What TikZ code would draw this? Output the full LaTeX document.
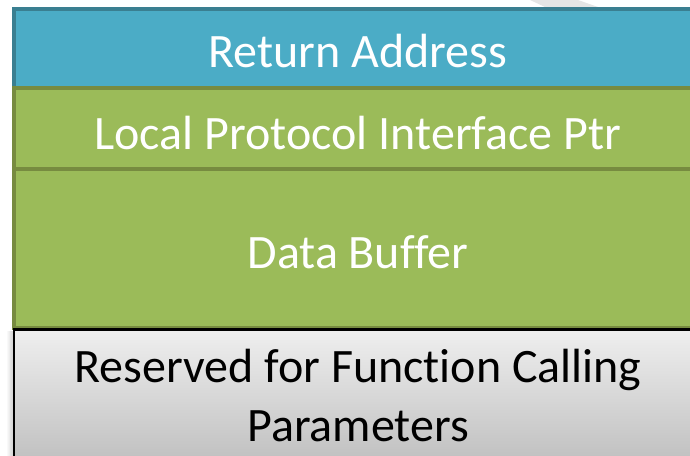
\documentclass[tikz,border=0pt]{standalone}
\usepackage{fontspec}
\setmainfont[Ligatures=CommonOff]{Carlito}
\usetikzlibrary{shadings}
\definecolor{stackblue}{HTML}{4BACC6}
\definecolor{stackblueedge}{HTML}{3A7F91}
\definecolor{stackgreen}{HTML}{9BBB59}
\definecolor{stackgreenedge}{HTML}{778B40}
\definecolor{graytop}{HTML}{EFEFEF}
\definecolor{graybottom}{HTML}{BDBDBD}
\tikzset{
  slot/.style={line width=4pt, line join=miter},
  bluebox/.style={slot, fill=stackblue, draw=stackblueedge},
  greenbox/.style={slot, fill=stackgreen, draw=stackgreenedge},
  label/.style={font=\fontsize{48}{58.5}\selectfont, align=center, inner sep=0pt, anchor=base},
}
\begin{document}
\begin{tikzpicture}[x=1pt,y=-1pt]
  \useasboundingbox (0,0) rectangle (690,455);
  \clip (0,0) rectangle (690,455);
  % faint background streak
  \fill[black!10] (530,0) -- (578,0) -- (598,7) -- (545,7) -- cycle;
  % soft shadow of the bottom slot
  \foreach \i in {1,...,8}
    \fill[black, opacity=0.025] (14-\i*0.9,331) rectangle (20,470);
  % stack slots
  \path[bluebox] (14,9) rectangle (702,88);
  \path[greenbox] (14,88) rectangle (702,168.5);
  \path[greenbox] (14,168.5) rectangle (702,327.5);
  \shade[top color=graytop, bottom color=graybottom, draw=black, line width=2.2pt]
    (14,329.5) rectangle (702,470);
  % labels, placed by their (last) baselines
  \node[label, text=white] (ret) at (358,67) {Return Address};
  \node[label, text=white] (lpi) at (358,149.5) {Local Protocol Interface Ptr};
  \node[label, text=white] (buf) at (358,268) {Data Buffer};
  \node[label, text=black] (res) at (358,441) {Reserved for Function Calling\\Parameters};
\end{tikzpicture}
\end{document}
